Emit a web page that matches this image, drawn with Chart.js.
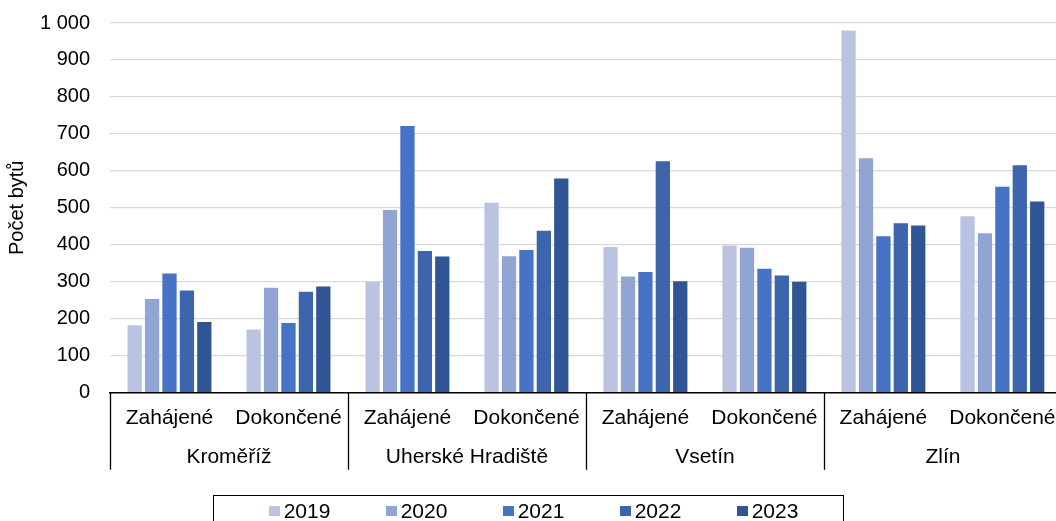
<!DOCTYPE html>
<html>
<head>
<meta charset="utf-8">
<script src="https://cdn.jsdelivr.net/npm/chart.js@4/dist/chart.umd.min.js"></script>
<style>
  html, body { margin: 0; padding: 0; background: #fff; overflow: hidden; width: 1056px; height: 521px; }
  #wrap { position: relative; width: 1056px; height: 521px; overflow: hidden; }
  canvas { position: absolute; left: 0; top: 0; }
  #legend {
    position: absolute; left: 213px; top: 495px; width: 631px; height: 40px;
    border: 1px solid #000; box-sizing: border-box;
    display: flex; justify-content: center; align-items: flex-start;
    padding-top: 3px; padding-left: 10px;
    font-family: "Liberation Sans", Arial, sans-serif; font-size: 21px; color: #000;
  }
  .li { display: flex; align-items: center; margin: 0 27.65px; }
  .sw { width: 11px; height: 10px; margin-right: 4px; }
</style>
</head>
<body>
<div id="wrap">
  <canvas id="c" width="1069" height="521"></canvas>
  <div id="legend"></div>
</div>
<script>
const subcategories = ['Zahájené', 'Dokončené', 'Zahájené', 'Dokončené', 'Zahájené', 'Dokončené', 'Zahájené', 'Dokončené'];
const groups = ['Kroměříž', 'Uherské Hradiště', 'Vsetín', 'Zlín'];
const years = ['2019', '2020', '2021', '2022', '2023'];
const v2019 = [182, 171, 300, 514, 394, 398, 980, 477];
const v2020 = [253, 284, 494, 369, 314, 392, 634, 431];
const v2021 = [322, 188, 721, 386, 326, 335, 423, 557];
const v2022 = [276, 273, 383, 438, 626, 317, 458, 615];
const v2023 = [191, 287, 368, 579, 301, 300, 452, 517];
const colors = ['#BAC4E2', '#91A5D4', '#4673C6', '#3C65AE', '#305595'];
const yTitle = 'Počet bytů';

const seriesValues = [v2019, v2020, v2021, v2022, v2023];
const FONT = '"Liberation Sans", Arial, sans-serif';

const separators = {
  id: 'separators',
  afterDraw(chart) {
    const xs = chart.scales.x, x2 = chart.scales.x2;
    const half = (xs.getPixelForValue(1) - xs.getPixelForValue(0)) / 2;
    const ctx = chart.ctx;
    const bottom = x2.top + 25;
    ctx.save();
    ctx.strokeStyle = '#000';
    ctx.lineWidth = 1.3;
    for (let g = 0; g <= groups.length; g++) {
      const px = Math.round(xs.getPixelForValue(g * 2) - half) + 0.5;
      ctx.beginPath();
      ctx.moveTo(px, xs.top);
      ctx.lineTo(px, bottom);
      ctx.stroke();
    }
    ctx.restore();
  }
};

new Chart(document.getElementById('c'), {
  type: 'bar',
  data: {
    labels: subcategories,
    datasets: years.map((y, i) => ({
      label: y,
      data: seriesValues[i],
      backgroundColor: colors[i],
      borderWidth: 0,
      barPercentage: 0.82,
      categoryPercentage: 0.732
    }))
  },
  options: {
    responsive: false,
    animation: false,
    layout: { padding: { top: 23, bottom: 51, left: 0, right: 0 } },
    plugins: { legend: { display: false }, tooltip: { enabled: false } },
    scales: {
      x: {
        position: 'bottom',
        weight: 1,
        grid: { display: false, drawTicks: false },
        border: { display: true, color: '#000', width: 1.5 },
        ticks: { padding: 13.5, color: '#000', font: { family: FONT, size: 21 }, maxRotation: 0, autoSkip: false }
      },
      x2: {
        type: 'category',
        labels: groups,
        position: 'bottom',
        weight: 2,
        offset: true,
        grid: { display: false, drawTicks: false },
        border: { display: false },
        ticks: { padding: 0, color: '#000', font: { family: FONT, size: 21 }, maxRotation: 0, autoSkip: false }
      },
      y: {
        min: 0,
        max: 1000,
        afterFit(scale) { scale.width = 110; scale.paddingTop = 0; scale.paddingBottom = 0; },
        grid: {
          drawTicks: false,
          color: (ctx) => (ctx.tick && ctx.tick.value === 0 ? 'rgba(0,0,0,0)' : '#D9D9D9'),
          lineWidth: 1.3
        },
        border: { display: false },
        ticks: {
          stepSize: 100,
          padding: 20,
          color: '#000',
          font: { family: FONT, size: 20 },
          callback: (v) => String(v).replace(/\B(?=(\d{3})+(?!\d))/g, ' ')
        },
        title: {
          display: true,
          text: yTitle,
          color: '#000',
          font: { family: FONT, size: 20 },
          padding: { top: 5, bottom: 0 }
        }
      }
    }
  },
  plugins: [separators]
});

const legend = document.getElementById('legend');
years.forEach((y, i) => {
  const item = document.createElement('div');
  item.className = 'li';
  const sw = document.createElement('span');
  sw.className = 'sw';
  sw.style.background = colors[i];
  const t = document.createElement('span');
  t.textContent = y;
  item.appendChild(sw);
  item.appendChild(t);
  legend.appendChild(item);
});
</script>
</body>
</html>
